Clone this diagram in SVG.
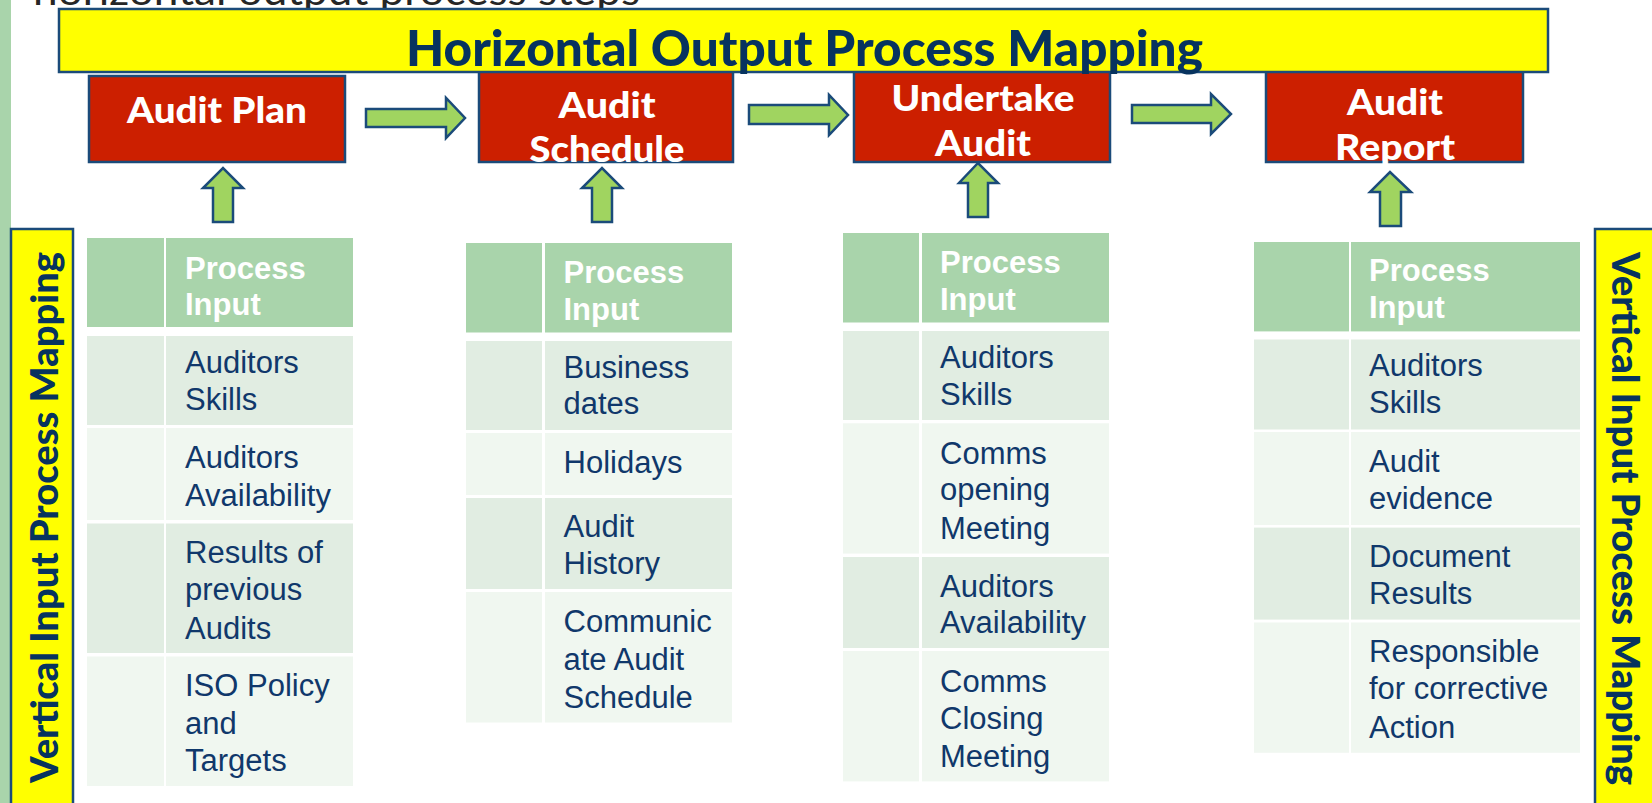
<svg xmlns="http://www.w3.org/2000/svg" width="1652" height="803" viewBox="0 0 1652 803">
<style>
.bg{fill:#ffffff}
.strip{fill:#a9d4ab}
.yel{fill:#ffff00;stroke:#1b4b7a;stroke-width:2.5}
.red{fill:#cc1f00;stroke:#1b4b7a;stroke-width:2.5}
.arr{fill:#a0d460;stroke:#1b4b7a;stroke-width:2.5;stroke-linejoin:miter}
.gs{font-family:Lato,"Open Sans","Liberation Sans",sans-serif;font-weight:900}
.title{font-size:50px;fill:#07335f}
.vt{font-size:37px;fill:#07335f}
.bt{font-size:36px;fill:#ffffff}
.top{font-family:Lato,"Liberation Sans",sans-serif;font-size:40px;fill:#262626}
.hd{fill:#a9d4ab}
.r1{fill:#e1ede2}
.r2{fill:#f0f7f0}
.th{font-family:"Liberation Sans",Arial,sans-serif;font-weight:bold;font-size:31px;fill:#ffffff}
.td{font-family:"Liberation Sans",Arial,sans-serif;font-size:31px;fill:#10386b}
</style>
<rect class="bg" x="0" y="0" width="1652" height="803"/>
<rect class="strip" x="0" y="0" width="11" height="803"/>
<text class="top" x="33" y="5" textLength="607" lengthAdjust="spacingAndGlyphs">horizontal output process steps</text>

<g id="vertical-left">
<rect class="yel" x="11" y="229" width="62" height="590"/>
<text class="gs vt" transform="translate(58.3,517.5) rotate(-90)" text-anchor="middle" textLength="531" lengthAdjust="spacingAndGlyphs">Vertical Input Process Mapping</text>
</g>
<g id="vertical-right">
<rect class="yel" x="1595" y="229" width="80" height="590"/>
<text class="gs vt" transform="translate(1611.7,518.5) rotate(90)" text-anchor="middle" textLength="533" lengthAdjust="spacingAndGlyphs">Vertical Input Process Mapping</text>
</g>

<g id="audit-plan">
<rect class="red" x="89" y="76" width="256" height="86"/>
<text class="gs bt" x="217" y="123" text-anchor="middle" textLength="180" lengthAdjust="spacingAndGlyphs">Audit Plan</text>
</g>
<g id="audit-schedule">
<rect class="red" x="479" y="68" width="254" height="94"/>
<text class="gs bt" x="607" y="118" text-anchor="middle" textLength="97" lengthAdjust="spacingAndGlyphs">Audit</text>
<text class="gs bt" x="607" y="162" text-anchor="middle" textLength="155" lengthAdjust="spacingAndGlyphs">Schedule</text>
</g>
<g id="undertake-audit">
<rect class="red" x="854" y="68" width="256" height="94"/>
<text class="gs bt" x="983" y="111" text-anchor="middle" textLength="183" lengthAdjust="spacingAndGlyphs">Undertake</text>
<text class="gs bt" x="983" y="156" text-anchor="middle" textLength="96" lengthAdjust="spacingAndGlyphs">Audit</text>
</g>
<g id="audit-report">
<rect class="red" x="1266" y="68" width="257" height="94"/>
<text class="gs bt" x="1395" y="115" text-anchor="middle" textLength="96" lengthAdjust="spacingAndGlyphs">Audit</text>
<text class="gs bt" x="1395" y="160" text-anchor="middle" textLength="120" lengthAdjust="spacingAndGlyphs">Report</text>
</g>

<g id="banner">
<rect class="yel" x="59" y="9" width="1489" height="63"/>
<text class="gs title" x="804.5" y="66" text-anchor="middle" textLength="797" lengthAdjust="spacingAndGlyphs">Horizontal Output Process Mapping</text>
</g>

<g id="connectors">
<path class="arr" d="M366,109 H446 V98 L465,118 L446,138 V127 H366 Z"/>
<path class="arr" d="M749,105 H829 V95 L848,115 L829,135 V124 H749 Z"/>
<path class="arr" d="M1132,105 H1211 V94 L1231,114 L1211,134 V123 H1132 Z"/>
<path class="arr" d="M213,222 V188 H203 L223,168 L243,188 H233 V222 Z"/>
<path class="arr" d="M592,222 V188 H582 L602,168 L622,188 H612 V222 Z"/>
<path class="arr" d="M968,217 V183 H959 L978,163 L998,183 H988 V217 Z"/>
<path class="arr" d="M1380,226 V192 H1370 L1390,172 L1411,192 H1401 V226 Z"/>
</g>

<g id="table-audit-plan">
<rect class="hd" x="87" y="238" width="77" height="89"/>
<rect class="hd" x="166" y="238" width="187" height="89"/>
<rect class="r1" x="87" y="336" width="77" height="89"/>
<rect class="r1" x="166" y="336" width="187" height="89"/>
<rect class="r2" x="87" y="428" width="77" height="92"/>
<rect class="r2" x="166" y="428" width="187" height="92"/>
<rect class="r1" x="87" y="523.5" width="77" height="129.5"/>
<rect class="r1" x="166" y="523.5" width="187" height="129.5"/>
<rect class="r2" x="87" y="656.5" width="77" height="129.5"/>
<rect class="r2" x="166" y="656.5" width="187" height="129.5"/>
<text class="th" x="185" y="278.6">Process</text>
<text class="th" x="185" y="315">Input</text>
<text class="td" x="185" y="373">Auditors</text>
<text class="td" x="185" y="410">Skills</text>
<text class="td" x="185" y="468">Auditors</text>
<text class="td" x="185" y="506">Availability</text>
<text class="td" x="185" y="563">Results of</text>
<text class="td" x="185" y="600">previous</text>
<text class="td" x="185" y="639">Audits</text>
<text class="td" x="185" y="696">ISO Policy</text>
<text class="td" x="185" y="734">and</text>
<text class="td" x="185" y="771">Targets</text>
</g>

<g id="table-audit-schedule">
<rect class="hd" x="466" y="243" width="76" height="89.5"/>
<rect class="hd" x="545" y="243" width="187" height="89.5"/>
<rect class="r1" x="466" y="341" width="76" height="89"/>
<rect class="r1" x="545" y="341" width="187" height="89"/>
<rect class="r2" x="466" y="433" width="76" height="62"/>
<rect class="r2" x="545" y="433" width="187" height="62"/>
<rect class="r1" x="466" y="498" width="76" height="91"/>
<rect class="r1" x="545" y="498" width="187" height="91"/>
<rect class="r2" x="466" y="592" width="76" height="130.5"/>
<rect class="r2" x="545" y="592" width="187" height="130.5"/>
<text class="th" x="563.5" y="282.5">Process</text>
<text class="th" x="563.5" y="319.7">Input</text>
<text class="td" x="563.5" y="378">Business</text>
<text class="td" x="563.5" y="414">dates</text>
<text class="td" x="563.5" y="473">Holidays</text>
<text class="td" x="563.5" y="537">Audit</text>
<text class="td" x="563.5" y="574">History</text>
<text class="td" x="563.5" y="632">Communic</text>
<text class="td" x="563.5" y="670">ate Audit</text>
<text class="td" x="563.5" y="708">Schedule</text>
</g>

<g id="table-undertake-audit">
<rect class="hd" x="843" y="233" width="76" height="89.5"/>
<rect class="hd" x="922" y="233" width="187" height="89.5"/>
<rect class="r1" x="843" y="331" width="76" height="89"/>
<rect class="r1" x="922" y="331" width="187" height="89"/>
<rect class="r2" x="843" y="423.3" width="76" height="130.3"/>
<rect class="r2" x="922" y="423.3" width="187" height="130.3"/>
<rect class="r1" x="843" y="557" width="76" height="91"/>
<rect class="r1" x="922" y="557" width="187" height="91"/>
<rect class="r2" x="843" y="651" width="76" height="130.4"/>
<rect class="r2" x="922" y="651" width="187" height="130.4"/>
<text class="th" x="940" y="273">Process</text>
<text class="th" x="940" y="310.4">Input</text>
<text class="td" x="940" y="368">Auditors</text>
<text class="td" x="940" y="405">Skills</text>
<text class="td" x="940" y="464">Comms</text>
<text class="td" x="940" y="500">opening</text>
<text class="td" x="940" y="539">Meeting</text>
<text class="td" x="940" y="597">Auditors</text>
<text class="td" x="940" y="633">Availability</text>
<text class="td" x="940" y="692">Comms</text>
<text class="td" x="940" y="729">Closing</text>
<text class="td" x="940" y="767">Meeting</text>
</g>

<g id="table-audit-report">
<rect class="hd" x="1254" y="242" width="95" height="89.4"/>
<rect class="hd" x="1351" y="242" width="229" height="89.4"/>
<rect class="r1" x="1254" y="339.5" width="95" height="90"/>
<rect class="r1" x="1351" y="339.5" width="229" height="90"/>
<rect class="r2" x="1254" y="432" width="95" height="93"/>
<rect class="r2" x="1351" y="432" width="229" height="93"/>
<rect class="r1" x="1254" y="527.6" width="95" height="92"/>
<rect class="r1" x="1351" y="527.6" width="229" height="92"/>
<rect class="r2" x="1254" y="622.5" width="95" height="130.3"/>
<rect class="r2" x="1351" y="622.5" width="229" height="130.3"/>
<text class="th" x="1369" y="281">Process</text>
<text class="th" x="1369" y="318.3">Input</text>
<text class="td" x="1369" y="376">Auditors</text>
<text class="td" x="1369" y="413">Skills</text>
<text class="td" x="1369" y="471.5">Audit</text>
<text class="td" x="1369" y="508.7">evidence</text>
<text class="td" x="1369" y="566.6">Document</text>
<text class="td" x="1369" y="604">Results</text>
<text class="td" x="1369" y="661.6">Responsible</text>
<text class="td" x="1369" y="698.8">for corrective</text>
<text class="td" x="1369" y="738">Action</text>
</g>
</svg>
